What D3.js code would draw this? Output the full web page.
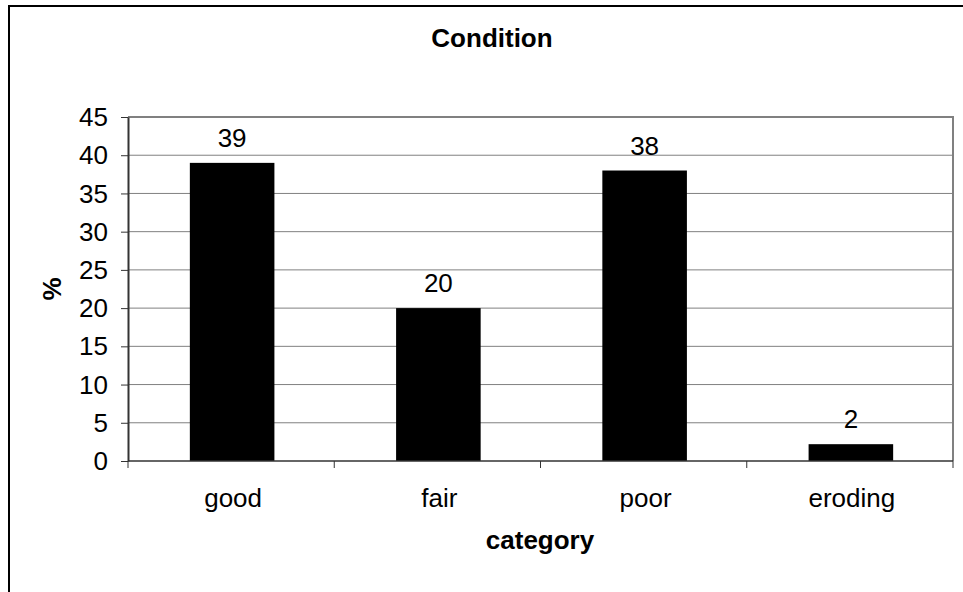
<!DOCTYPE html>
<html>
<head>
<meta charset="utf-8">
<script src="https://cdn.jsdelivr.net/npm/d3@7"></script>
<style>
  html, body { margin: 0; padding: 0; background: #fff; }
  svg { display: block; font-family: "Liberation Sans", Arial, sans-serif; }
</style>
</head>
<body>
<svg id="chart" width="963" height="592"></svg>
<script>
// Data
const categories = ["good", "fair", "poor", "eroding"];
const values = [39, 20, 38, 2.2];
const labels = ["39", "20", "38", "2"];
const yTicks = [0, 5, 10, 15, 20, 25, 30, 35, 40, 45];
const chartTitle = "Condition";
const xTitle = "category";
const yTitle = "%";

const FS = 26;
const svg = d3.select("#chart");

// outer chart border (extends past the window on right/bottom)
svg.append("rect")
  .attr("x", 9).attr("y", 6)
  .attr("width", 1000).attr("height", 1000)
  .attr("fill", "none").attr("stroke", "#000").attr("stroke-width", 2);

const plot = { left: 128, right: 953, top: 117, bottom: 461 };

const x = d3.scaleBand().domain(categories).range([plot.left, plot.right]).paddingInner(0).paddingOuter(0);
const y = d3.scaleLinear().domain([0, 45]).range([plot.bottom, plot.top]);

// gridlines
svg.append("g").selectAll("line").data(yTicks.filter(d => d > 0)).join("line")
  .attr("x1", plot.left).attr("x2", plot.right)
  .attr("y1", d => y(d)).attr("y2", d => y(d))
  .attr("stroke", "#808080").attr("stroke-width", d => d === 45 ? 2 : 1);

// right frame
svg.append("line")
  .attr("x1", plot.right).attr("x2", plot.right)
  .attr("y1", plot.top - 1).attr("y2", plot.bottom)
  .attr("stroke", "#808080").attr("stroke-width", 2);

// bars
const barW = x.bandwidth() * 0.41;
svg.append("g").selectAll("rect").data(categories).join("rect")
  .attr("x", (d) => x(d) + x.bandwidth() / 2 - barW / 2 + 1)
  .attr("width", barW)
  .attr("y", (d, i) => y(values[i]))
  .attr("height", (d, i) => y(0) - y(values[i]))
  .attr("fill", "#000");

// bar labels
svg.append("g").selectAll("text").data(categories).join("text")
  .attr("x", d => x(d) + x.bandwidth() / 2 + 1)
  .attr("y", (d, i) => y(values[i]) - 16)
  .attr("text-anchor", "middle")
  .attr("font-size", FS)
  .attr("fill", "#000")
  .text((d, i) => labels[i]);

// y axis
const yAxis = d3.axisLeft(y).tickValues(yTicks).tickSize(7).tickPadding(13).tickSizeOuter(0);
const gy = svg.append("g").attr("transform", `translate(${plot.left},0)`).call(yAxis);
gy.select(".domain").attr("stroke", "#333").attr("stroke-width", 2);
gy.selectAll(".tick line").attr("stroke", "#333").attr("stroke-width", 1);
gy.selectAll(".tick text").attr("font-size", FS).attr("font-family", "Liberation Sans, Arial, sans-serif")
  .attr("fill", "#000").attr("dy", "0.33em");

// x axis
const gx = svg.append("g").attr("transform", `translate(0,${plot.bottom})`);
gx.append("line").attr("x1", plot.left).attr("x2", plot.right).attr("y1", 0).attr("y2", 0)
  .attr("stroke", "#333").attr("stroke-width", 1.5);
const bounds = categories.map(d => x(d)).concat([plot.right]);
gx.selectAll("line.tk").data(bounds).join("line").attr("class", "tk")
  .attr("x1", d => d).attr("x2", d => d).attr("y1", 0).attr("y2", 7)
  .attr("stroke", "#333").attr("stroke-width", 1);
gx.selectAll("text").data(categories).join("text")
  .attr("x", d => x(d) + x.bandwidth() / 2 + 2)
  .attr("y", 46)
  .attr("text-anchor", "middle")
  .attr("font-size", FS)
  .attr("fill", "#000")
  .text(d => d);

// titles
svg.append("text").attr("x", 492).attr("y", 47)
  .attr("text-anchor", "middle").attr("font-size", FS).attr("font-weight", "bold")
  .text(chartTitle);
svg.append("text").attr("x", 540).attr("y", 549)
  .attr("text-anchor", "middle").attr("font-size", FS).attr("font-weight", "bold")
  .text(xTitle);
svg.append("text")
  .attr("transform", `translate(61,${(plot.top + plot.bottom) / 2}) rotate(-90)`)
  .attr("text-anchor", "middle").attr("font-size", FS).attr("font-weight", "bold")
  .text(yTitle);
</script>
</body>
</html>
